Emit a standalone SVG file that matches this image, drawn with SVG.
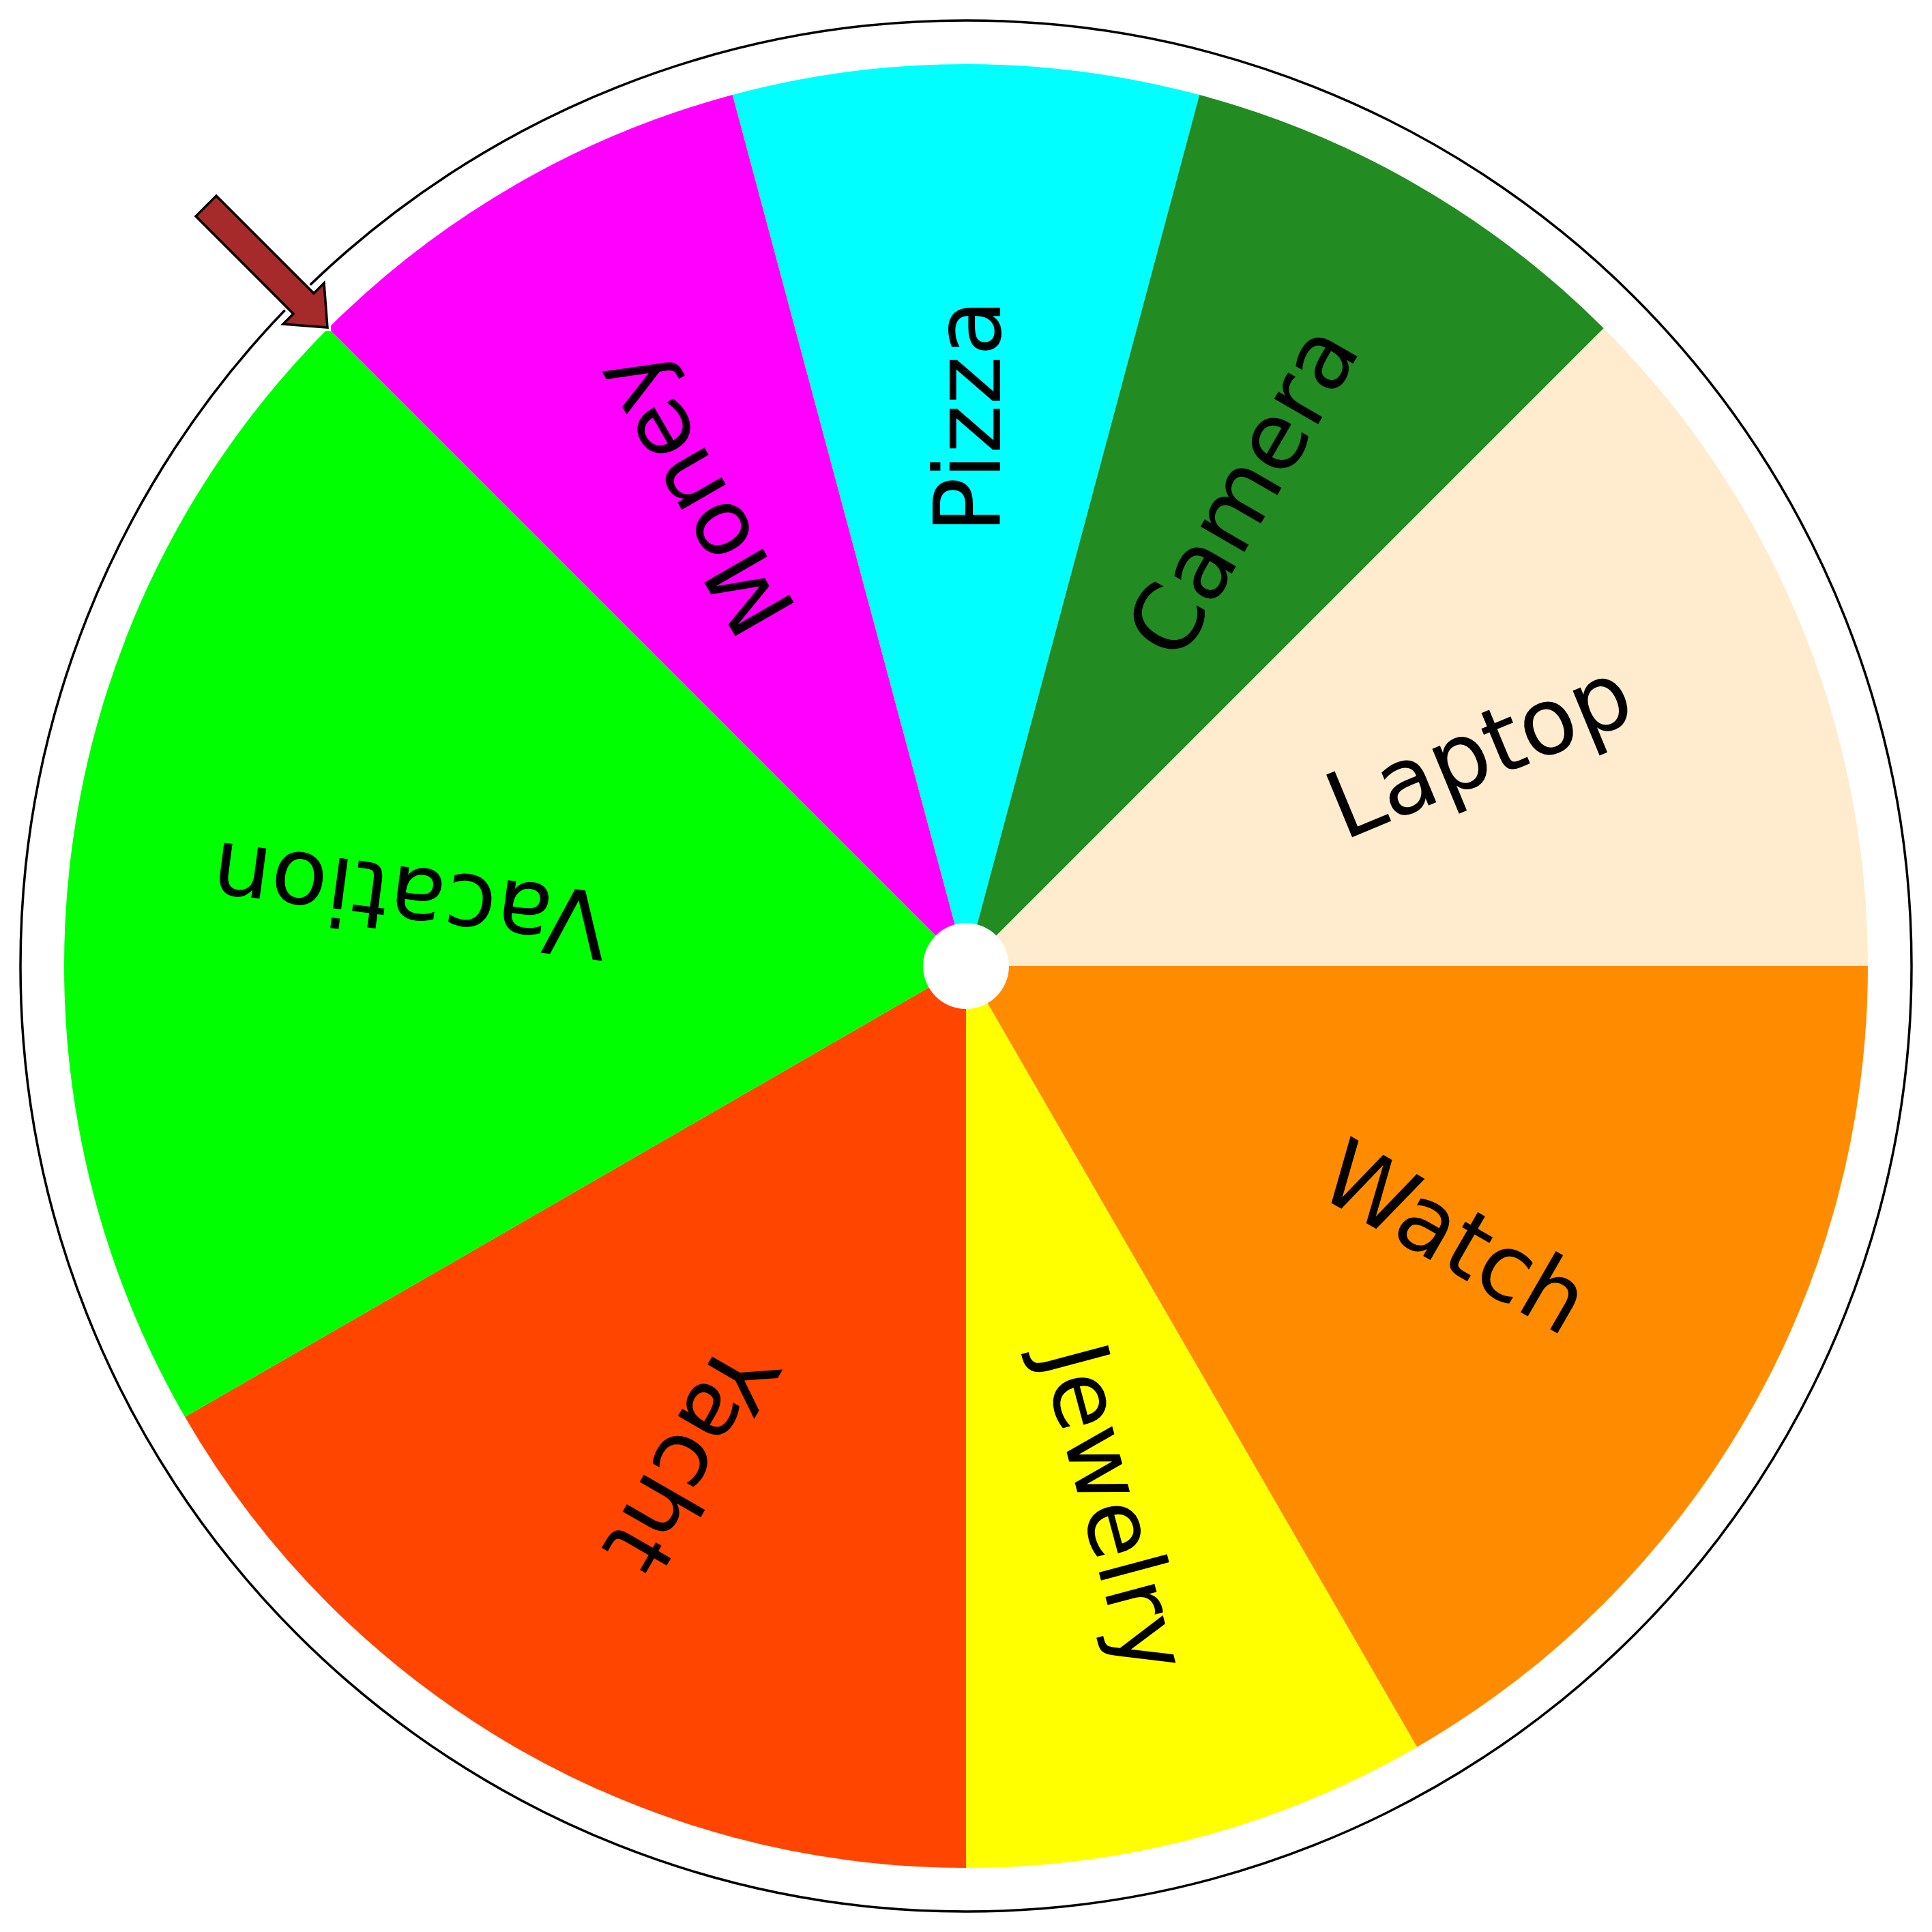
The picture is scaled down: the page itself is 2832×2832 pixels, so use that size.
<svg xmlns="http://www.w3.org/2000/svg" width="2832" height="2832" viewBox="0 0 2832 2832">
<style>
.lbl{font-family:"DejaVu Sans",sans-serif;font-size:136px;fill:#000;text-anchor:middle}
</style>
<rect width="2832" height="2832" fill="#fff"/>
<circle id="rim" cx="1416" cy="1416" r="1386" fill="#fff" stroke="#000" stroke-width="3.5"/>
<g id="wheel">
<g id="watch"><path d="M1416 1416 L2738 1416 A1322 1322 0 0 1 2077 2560.9 Z" fill="#FF8C00"/><text class="lbl" transform="rotate(30 1416 1416)" x="2236" y="1449">Watch</text></g>
<g id="jewelry"><path d="M1416 1416 L2077 2560.9 A1322 1322 0 0 1 1416 2738 Z" fill="#FFFF00"/><text class="lbl" transform="rotate(75 1416 1416)" x="2240" y="1458">Jewelry</text></g>
<g id="yacht"><path d="M1416 1416 L1416 2738 A1322 1322 0 0 1 271.1 2077 Z" fill="#FF4500"/><text class="lbl" transform="rotate(120 1416 1416)" x="2244" y="1452">Yacht</text></g>
<g id="vacation"><path d="M1416 1416 L271.1 2077 A1322 1322 0 0 1 481.2 481.2 Z" fill="#00FF00"/><text class="lbl" transform="rotate(187.5 1416 1416)" x="2237" y="1453">Vacation</text></g>
<g id="money"><path d="M1416 1416 L481.2 481.2 A1322 1322 0 0 1 1073.8 139.1 Z" fill="#FF00FF"/><text class="lbl" transform="rotate(240 1416 1416)" x="2216" y="1464">Money</text></g>
<g id="pizza"><path d="M1416 1416 L1073.8 139.1 A1322 1322 0 0 1 1758.2 139.1 Z" fill="#00FFFF"/><text class="lbl" transform="rotate(270 1416 1416)" x="2222" y="1466">Pizza</text></g>
<g id="camera"><path d="M1416 1416 L1758.2 139.1 A1322 1322 0 0 1 2350.8 481.2 Z" fill="#228B22"/><text class="lbl" transform="rotate(300 1416 1416)" x="2222" y="1466">Camera</text></g>
<g id="laptop"><path d="M1416 1416 L2350.8 481.2 A1322 1322 0 0 1 2738 1416 Z" fill="#FFEBCD"/><text class="lbl" transform="rotate(337.5 1416 1416)" x="2232" y="1458">Laptop</text></g>
</g>
<circle id="hub" cx="1416" cy="1416" r="63" fill="#fff"/>
<g id="pointer">
<polygon points="317,287 460,430 475,415 480,480 415,475 430,460 287,317" fill="none" stroke="#fff" stroke-width="10" stroke-linejoin="miter"/>
<polygon points="317,287 460,430 475,415 480,480 415,475 430,460 287,317" fill="#A52A2A" stroke="#000" stroke-width="3.5" stroke-linejoin="miter"/>
</g>
</svg>
